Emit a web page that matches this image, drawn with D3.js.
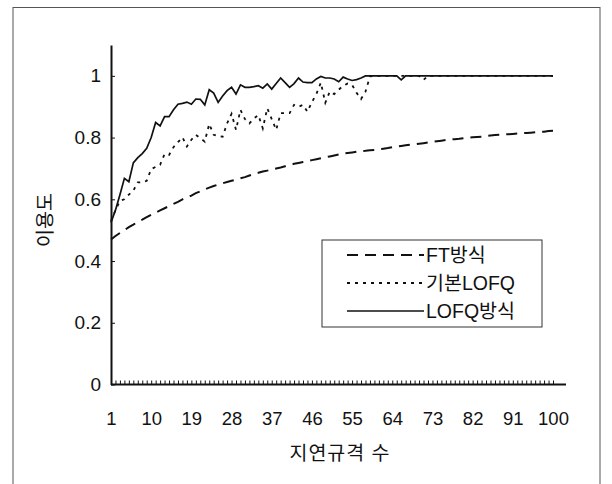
<!DOCTYPE html>
<html>
<head>
<meta charset="utf-8">
<script src="https://cdn.jsdelivr.net/npm/d3@7"></script>
<style>
  body { margin: 0; background: #fff; }
  text { font-family: "Liberation Sans", Arial, "Noto Sans CJK KR", sans-serif; fill: #111; }
</style>
</head>
<body>
<svg id="chart"></svg>
<script>
// x categories 1..100
const categories = d3.range(1, 101);
const tickLabels = [1, 10, 19, 28, 37, 46, 55, 64, 73, 82, 91, 100];
const yTicks = [0, 0.2, 0.4, 0.6, 0.8, 1];
const seriesNames = ['FT방식', '기본LOFQ', 'LOFQ방식'];

const ftValues = [
  0.470, 0.481, 0.491, 0.500, 0.510, 0.518, 0.527, 0.534, 0.542, 0.550,
  0.557, 0.564, 0.571, 0.578, 0.585, 0.592, 0.600, 0.606, 0.612, 0.620,
  0.626, 0.632, 0.638, 0.643, 0.648, 0.652, 0.656, 0.660, 0.664, 0.668,
  0.672, 0.677, 0.682, 0.686, 0.690, 0.693, 0.696, 0.700, 0.703, 0.707,
  0.711, 0.715, 0.718, 0.721, 0.724, 0.727, 0.730, 0.733, 0.736, 0.739,
  0.742, 0.745, 0.748, 0.750, 0.752, 0.754, 0.756, 0.757, 0.759, 0.760,
  0.762, 0.764, 0.766, 0.769, 0.771, 0.773, 0.775, 0.777, 0.778, 0.780,
  0.782, 0.784, 0.786, 0.788, 0.790, 0.792, 0.794, 0.795, 0.796, 0.798,
  0.799, 0.801, 0.802, 0.803, 0.805, 0.807, 0.808, 0.809, 0.810, 0.811,
  0.812, 0.813, 0.814, 0.815, 0.816, 0.817, 0.818, 0.819, 0.821, 0.822
];

const basicValues = [
  0.530, 0.565, 0.595, 0.600, 0.615, 0.628, 0.655, 0.655, 0.660, 0.698,
  0.705, 0.712, 0.747, 0.744, 0.769, 0.785, 0.801, 0.771, 0.793, 0.809,
  0.798, 0.787, 0.844, 0.809, 0.806, 0.803, 0.846, 0.877, 0.825, 0.890,
  0.860, 0.846, 0.862, 0.873, 0.830, 0.895, 0.860, 0.825, 0.879, 0.879,
  0.879, 0.906, 0.900, 0.906, 0.884, 0.915, 0.941, 0.978, 0.913, 0.949,
  0.941, 0.955, 0.968, 0.975, 0.971, 0.945, 0.925, 0.949, 0.998, 1.000,
  1.000, 1.000, 1.000, 1.000, 1.000, 1.000, 1.000, 1.000, 1.000, 1.000,
  0.987, 1.000, 1.000, 1.000, 1.000, 1.000, 1.000, 1.000, 1.000, 1.000,
  1.000, 1.000, 1.000, 1.000, 1.000, 1.000, 1.000, 1.000, 1.000, 1.000,
  1.000, 1.000, 1.000, 1.000, 1.000, 1.000, 1.000, 1.000, 1.000, 1.000
];

const lofqValues = [
  0.525, 0.565, 0.615, 0.668, 0.657, 0.718, 0.735, 0.748, 0.765, 0.800,
  0.849, 0.838, 0.868, 0.868, 0.890, 0.908, 0.911, 0.915, 0.908, 0.925,
  0.924, 0.906, 0.955, 0.944, 0.914, 0.935, 0.952, 0.963, 0.941, 0.971,
  0.963, 0.963, 0.965, 0.968, 0.960, 0.974, 0.957, 0.975, 0.993, 0.978,
  0.963, 0.975, 0.993, 0.980, 0.978, 0.978, 0.990, 0.998, 0.993, 0.993,
  0.990, 0.981, 0.996, 0.990, 0.985, 0.988, 0.993, 1.000, 1.000, 1.000,
  1.000, 1.000, 1.000, 1.000, 1.000, 0.987, 1.000, 1.000, 1.000, 1.000,
  1.000, 1.000, 1.000, 1.000, 1.000, 1.000, 1.000, 1.000, 1.000, 1.000,
  1.000, 1.000, 1.000, 1.000, 1.000, 1.000, 1.000, 1.000, 1.000, 1.000,
  1.000, 1.000, 1.000, 1.000, 1.000, 1.000, 1.000, 1.000, 1.000, 1.000
];

const width = 612;
const height = 484;
const plotLeft = 111, plotRight = 553, plotTop = 45, plotBottom = 384.5;

const svg = d3.select('#chart')
  .attr('width', width)
  .attr('height', height);

// outer frame
svg.append('rect')
  .attr('x', 13).attr('y', 7.5)
  .attr('width', 587).attr('height', 480)
  .attr('fill', 'none')
  .attr('stroke', '#555')
  .attr('stroke-width', 1);

const x = d3.scalePoint().domain(categories).range([plotLeft, plotRight]);
const y = d3.scaleLinear().domain([0, 1.1]).range([plotBottom, plotTop]);

// x axis: small inside ticks for every category
const xAxis = svg.append('g')
  .attr('transform', `translate(0,${plotBottom})`)
  .call(d3.axisBottom(x).tickValues(categories).tickSize(-4).tickFormat('').tickSizeOuter(0));
xAxis.select('.domain').remove();
xAxis.selectAll('line').attr('stroke', '#111').attr('stroke-width', 1);

svg.append('line')
  .attr('x1', plotLeft).attr('x2', 566)
  .attr('y1', plotBottom).attr('y2', plotBottom)
  .attr('stroke', '#111').attr('stroke-width', 2);

// x labels
const xLab = svg.append('g')
  .attr('transform', `translate(0,${plotBottom})`)
  .call(d3.axisBottom(x).tickValues(tickLabels).tickSize(0).tickPadding(27));
xLab.select('.domain').remove();
xLab.selectAll('text').attr('font-size', 18.5);

// y axis
const yAxis = svg.append('g')
  .attr('transform', `translate(${plotLeft},0)`)
  .call(d3.axisLeft(y).tickValues(yTicks).tickSize(-4).tickPadding(12).tickSizeOuter(0)
    .tickFormat(d => d === 0 || d === 1 ? String(d) : d3.format('.1f')(d)));
yAxis.select('.domain').attr('stroke', '#111').attr('stroke-width', 2);
yAxis.selectAll('line').attr('stroke', '#111');
yAxis.selectAll('text').attr('font-size', 19).attr('x', -10);

// axis titles
svg.append('text')
  .attr('x', 340).attr('y', 460)
  .attr('text-anchor', 'middle')
  .attr('font-size', 19.5)
  .attr('letter-spacing', 1)
  .text('지연규격 수');

svg.append('text')
  .attr('transform', 'translate(52,220) rotate(-90)')
  .attr('text-anchor', 'middle')
  .attr('font-size', 19.5)
  .text('이용도');

// lines
const series = [
  { name: seriesNames[0], values: ftValues, dash: '11,7', w: 2 },
  { name: seriesNames[1], values: basicValues, dash: '3,5', w: 1.8 },
  { name: seriesNames[2], values: lofqValues, dash: null, w: 1.7 }
];

const line = d3.line()
  .x((d, i) => x(categories[i]))
  .y(d => y(d));

svg.selectAll('.series')
  .data(series)
  .enter()
  .append('path')
  .attr('class', 'series')
  .attr('d', d => line(d.values))
  .attr('fill', 'none')
  .attr('stroke', '#111')
  .attr('stroke-width', d => d.w)
  .attr('stroke-dasharray', d => d.dash);

// legend
const legend = svg.append('g').attr('transform', 'translate(322,240)');
legend.append('rect')
  .attr('width', 220).attr('height', 87)
  .attr('fill', '#fff')
  .attr('stroke', '#333')
  .attr('stroke-width', 1);

const items = legend.selectAll('.item')
  .data(series)
  .enter()
  .append('g')
  .attr('transform', (d, i) => `translate(0,${15 + i * 28})`);

items.append('line')
  .attr('x1', 25).attr('x2', 102)
  .attr('stroke', '#111')
  .attr('stroke-width', d => d.w)
  .attr('stroke-dasharray', d => d.dash);

items.append('text')
  .attr('x', 104).attr('y', 7)
  .attr('font-size', 19.5)
  .text(d => d.name);
</script>
</body>
</html>
